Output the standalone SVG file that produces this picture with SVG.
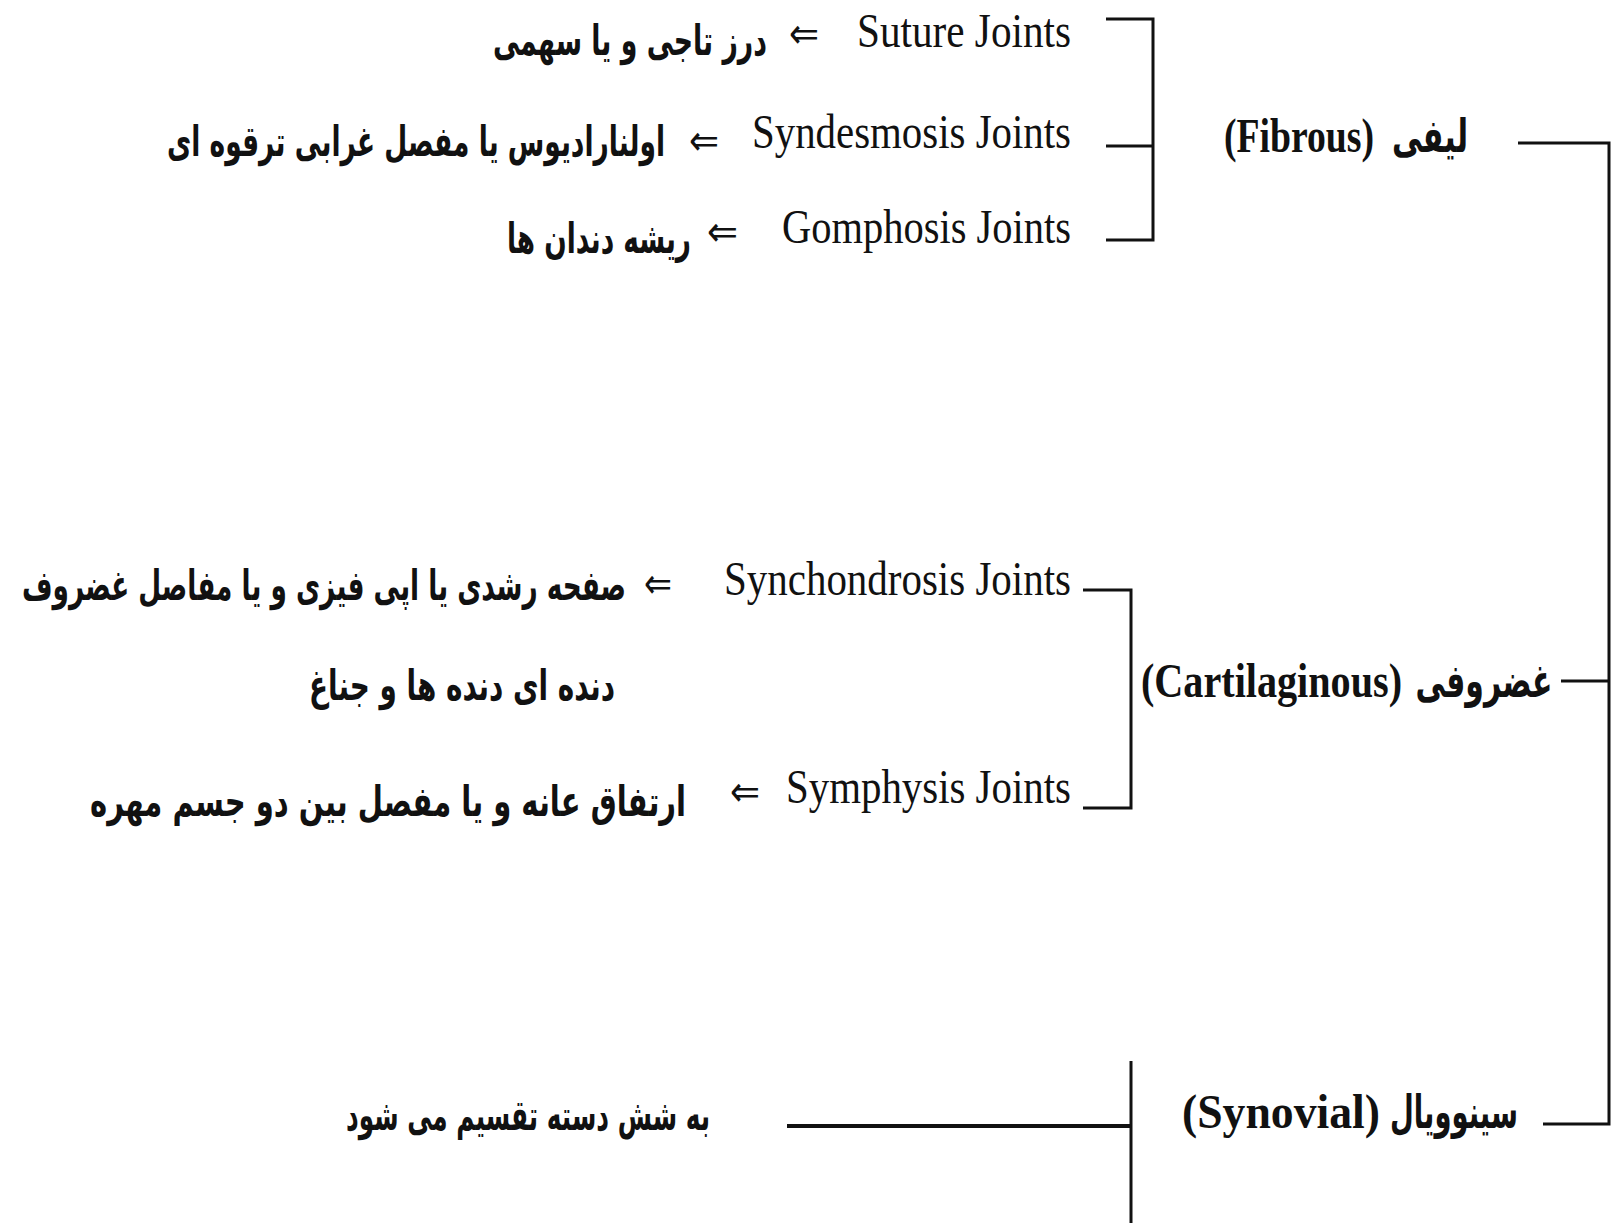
<svg xmlns="http://www.w3.org/2000/svg" width="1611" height="1223" viewBox="0 0 1611 1223">
<style>
.en{font-family:"Liberation Serif","Times New Roman",serif;font-size:48px;fill:#111}
.enb{font-family:"Liberation Serif","Times New Roman",serif;font-size:48px;font-weight:bold;fill:#111}
.fa{font-family:"DejaVu Sans","Noto Sans",sans-serif;font-size:42px;font-weight:bold;fill:#111;text-anchor:middle}
.fab{font-family:"DejaVu Sans","Noto Sans",sans-serif;font-size:46px;font-weight:bold;fill:#111;text-anchor:middle}
.arr{font-family:"DejaVu Sans",sans-serif;font-size:42px;fill:#111}
.ln{fill:none;stroke:#111;stroke-width:3}
</style>
<rect width="1611" height="1223" fill="#fff"/>
<g id="connectors">
<path class="ln" d="M1518,143 H1609 V1124 H1543"/>
<path class="ln" d="M1561,681 H1609"/>
<path class="ln" d="M1106,19 H1153 V240 H1106"/>
<path class="ln" d="M1106,146 H1153"/>
<path class="ln" d="M1083,590 H1131 V808 H1083"/>
<path class="ln" d="M1131,1061 V1223"/>
<path class="ln" d="M787,1126 H1131" style="stroke-width:4"/>
</g>
<g id="fibrous">
<text class="enb" x="1224" y="152" textLength="150" lengthAdjust="spacingAndGlyphs">(Fibrous)</text>
<text class="fab" x="1430" y="152" direction="rtl" textLength="76" lengthAdjust="spacingAndGlyphs">لیفی</text>
</g>
<g id="cartilaginous">
<text class="enb" x="1141" y="697" textLength="261" lengthAdjust="spacingAndGlyphs">(Cartilaginous)</text>
<text class="fab" x="1484" y="697" direction="rtl" textLength="137" lengthAdjust="spacingAndGlyphs">غضروفی</text>
</g>
<g id="synovial">
<text class="enb" x="1182" y="1128" textLength="198" lengthAdjust="spacingAndGlyphs">(Synovial)</text>
<text class="fab" x="1454" y="1128" direction="rtl" textLength="128" lengthAdjust="spacingAndGlyphs">سینوویال</text>
</g>
<g id="suture">
<text class="en" x="857" y="47" textLength="214" lengthAdjust="spacingAndGlyphs">Suture Joints</text>
<text class="arr" x="789" y="48" textLength="30" lengthAdjust="spacingAndGlyphs">⇐</text>
<text class="fa" x="630" y="55" direction="rtl" textLength="274" lengthAdjust="spacingAndGlyphs">درز تاجی و یا سهمی</text>
</g>
<g id="syndesmosis">
<text class="en" x="752" y="148" textLength="319" lengthAdjust="spacingAndGlyphs">Syndesmosis Joints</text>
<text class="arr" x="689" y="155" textLength="30" lengthAdjust="spacingAndGlyphs">⇐</text>
<text class="fa" x="416" y="156" direction="rtl" textLength="498" lengthAdjust="spacingAndGlyphs">اولنارادیوس یا مفصل غرابی ترقوه ای</text>
</g>
<g id="gomphosis">
<text class="en" x="782" y="243" textLength="289" lengthAdjust="spacingAndGlyphs">Gomphosis Joints</text>
<text class="arr" x="707" y="246" textLength="31" lengthAdjust="spacingAndGlyphs">⇐</text>
<text class="fa" x="599" y="253" direction="rtl" textLength="184" lengthAdjust="spacingAndGlyphs">ریشه دندان ها</text>
</g>
<g id="synchondrosis">
<text class="en" x="724" y="595" textLength="347" lengthAdjust="spacingAndGlyphs">Synchondrosis Joints</text>
<text class="arr" x="644" y="598" textLength="28" lengthAdjust="spacingAndGlyphs">⇐</text>
<text class="fa" x="324" y="600" direction="rtl" textLength="604" lengthAdjust="spacingAndGlyphs">صفحه رشدی یا اپی فیزی و یا مفاصل غضروف</text>
<text class="fa" x="462" y="700" direction="rtl" textLength="306" lengthAdjust="spacingAndGlyphs">دنده ای دنده ها و جناغ</text>
</g>
<g id="symphysis">
<text class="en" x="786" y="803" textLength="285" lengthAdjust="spacingAndGlyphs">Symphysis Joints</text>
<text class="arr" x="730" y="806" textLength="30" lengthAdjust="spacingAndGlyphs">⇐</text>
<text class="fa" x="388" y="816" direction="rtl" textLength="596" lengthAdjust="spacingAndGlyphs">ارتفاق عانه و یا مفصل بین دو جسم مهره</text>
</g>
<g id="synovial-types">
<text class="fa" x="528" y="1130" direction="rtl" textLength="364" lengthAdjust="spacingAndGlyphs">به شش دسته تقسیم می شود</text>
</g>
</svg>
